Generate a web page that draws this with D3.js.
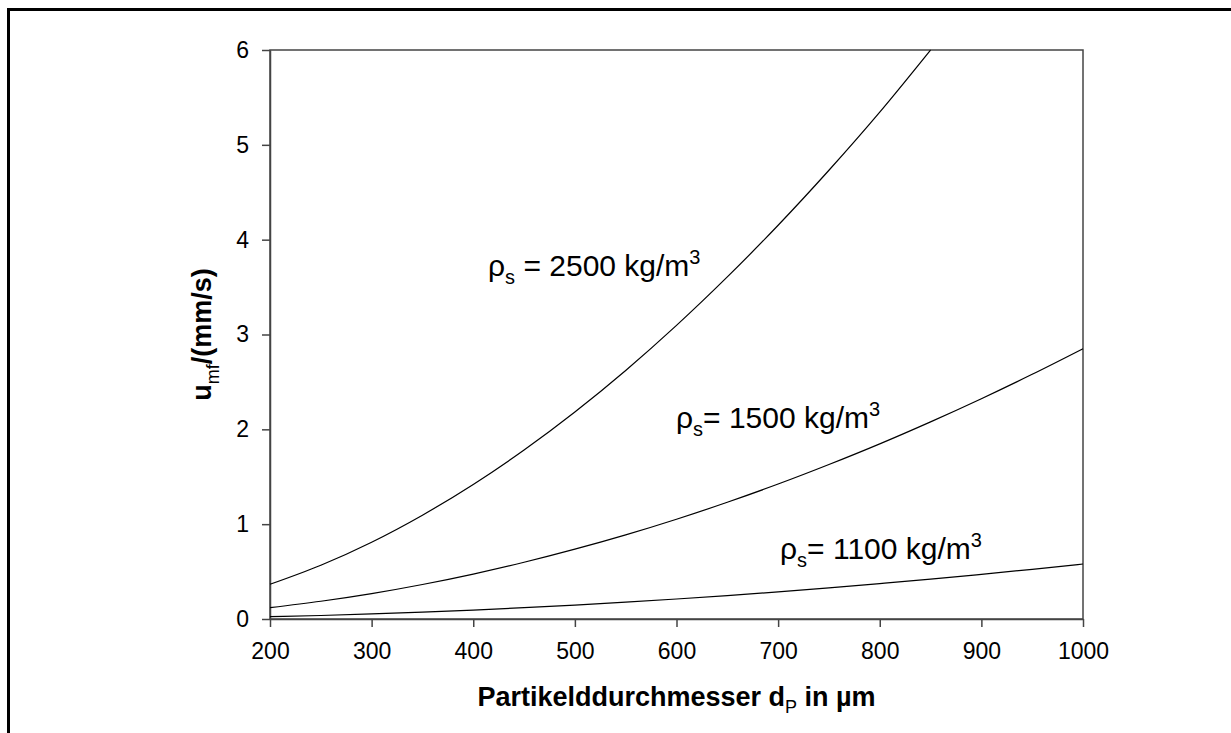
<!DOCTYPE html>
<html><head><meta charset="utf-8">
<script src="https://cdn.jsdelivr.net/npm/d3@7"></script>
<style>
body{margin:0;background:#fff;}
text{font-family:"Liberation Sans",Arial,sans-serif;}
</style></head>
<body><svg id="chart" width="1231" height="733"></svg>
<script>
const diameters = [200,250,300,350,400,450,500,550,600,650,700,750,800,850,900,950,1000];
const u2500 = [0.366,0.567,0.810,1.095,1.419,1.782,2.183,2.621,3.096,3.607,4.152,4.732,5.345,6.0];
const u1500 = [0.120,0.187,0.268,0.364,0.474,0.598,0.736,0.887,1.052,1.231,1.423,1.629,1.847,2.079,2.323,2.580,2.850];
const u1100 = [0.024,0.037,0.053,0.072,0.094,0.119,0.146,0.177,0.211,0.247,0.286,0.328,0.373,0.420,0.471,0.524,0.580];
const xTicks = [200,300,400,500,600,700,800,900,1000];
const yTicks = [0,1,2,3,4,5,6];
const seriesLabels = [
  {rho:"2500", sep:" = "},
  {rho:"1500", sep:"= "},
  {rho:"1100", sep:"= "}
];

const svg = d3.select("#chart");
const L=270, R=1083, T=50, B=619;
const x = d3.scaleLinear().domain([200,1000]).range([L,R]);
const y = d3.scaleLinear().domain([0,6]).range([B,T]);

// outer frame
svg.append("rect").attr("x",8.5).attr("y",9.5).attr("width",1260).attr("height",760)
  .attr("fill","none").attr("stroke","#000").attr("stroke-width",3);

// plot box
svg.append("rect").attr("x",L).attr("y",T).attr("width",R-L).attr("height",B-T)
  .attr("fill","none").attr("stroke","#444").attr("stroke-width",1.5);

const xAxis = svg.append("g").attr("transform",`translate(0,${B})`)
  .call(d3.axisBottom(x).tickValues(xTicks).tickFormat(d3.format("d")).tickSize(8).tickSizeOuter(0).tickPadding(16));
const yAxis = svg.append("g").attr("transform",`translate(${L},0)`)
  .call(d3.axisLeft(y).tickValues(yTicks).tickFormat(d3.format("d")).tickSize(8).tickSizeOuter(0).tickPadding(13));
[xAxis,yAxis].forEach(a=>{
  a.attr("font-size",23).attr("font-family","'Liberation Sans',Arial,sans-serif");
  a.select(".domain").attr("stroke","#444").attr("stroke-width",1.5);
  a.selectAll(".tick line").attr("stroke","#444").attr("stroke-width",1.5);
  a.selectAll(".tick text").attr("font-size",23).attr("fill","#000");
});

const line = d3.line().x(d=>x(d[0])).y(d=>y(d[1])).curve(d3.curveMonotoneX);
[u2500,u1500,u1100].forEach(vals=>{
  const pts = vals.map((v,i)=>[diameters[i],v]);
  svg.append("path").datum(pts).attr("d",line).attr("fill","none")
    .attr("stroke","#000").attr("stroke-width",1.2);
});

// annotations
const ann = [
  {lab:seriesLabels[0], px:488, py:276},
  {lab:seriesLabels[1], px:676, py:428},
  {lab:seriesLabels[2], px:780, py:559}
];
ann.forEach(a=>{
  const t = svg.append("text").attr("x",a.px).attr("y",a.py).attr("font-size",30).attr("fill","#000");
  t.append("tspan").text("ρ");
  t.append("tspan").attr("font-size",20).attr("dy",8).text("s");
  t.append("tspan").attr("dy",-8).text(a.lab.sep + a.lab.rho + " kg/m");
  t.append("tspan").attr("font-size",20).attr("dy",-12).text("3");
});

// x title
const xt = svg.append("text").attr("x",(L+R)/2).attr("y",706).attr("text-anchor","middle")
  .attr("font-size",27).attr("font-weight","bold").attr("fill","#000");
xt.append("tspan").text("Partikelddurchmesser d");
xt.append("tspan").attr("font-size",18).attr("font-weight","normal").attr("dy",7).text("P");
xt.append("tspan").attr("dy",-7).text(" in µm");

// y title
const yt = svg.append("text").attr("transform",`translate(211,${(T+B)/2}) rotate(-90)`)
  .attr("text-anchor","middle").attr("font-size",27).attr("font-weight","bold").attr("fill","#000");
yt.append("tspan").text("u");
yt.append("tspan").attr("font-size",18).attr("font-weight","normal").attr("dy",8).text("mf");
yt.append("tspan").attr("dy",-8).text("/(mm/s)");
</script></body></html>
